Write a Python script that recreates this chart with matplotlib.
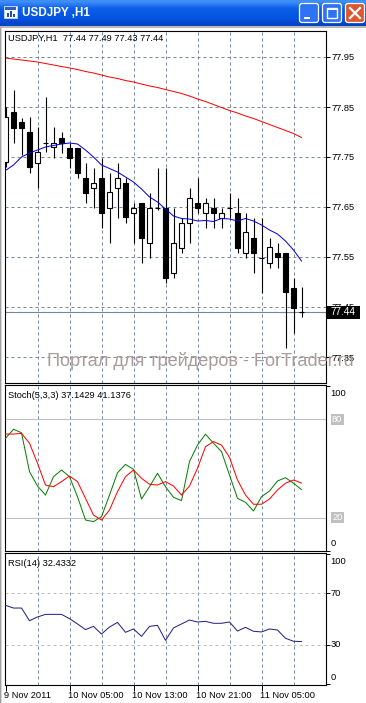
import matplotlib
matplotlib.use("Agg")
import matplotlib.pyplot as plt
import matplotlib.transforms as mtransforms
from matplotlib.patches import Rectangle, FancyBboxPatch
import numpy as np

# ---- data ----
symbol = "USDJPY ,H1"
header_main = "USDJPY,H1  77.44 77.49 77.43 77.44"
header_stoch = "Stoch(5,3,3) 37.1429 41.1376"
header_rsi = "RSI(14) 32.4332"
watermark = "Портал для трейдеров - ForTrader.ru"

opens = [77.740, 77.840, 77.820, 77.800, 77.739, 77.779, 77.771, 77.789, 77.769, 77.769,
         77.709, 77.689, 77.709, 77.649, 77.689, 77.699, 77.639, 77.659, 77.579, 77.649,
         77.649, 77.519, 77.569, 77.619, 77.659, 77.639, 77.649, 77.629, 77.649, 77.639,
         77.559, 77.589, 77.549, 77.539, 77.559, 77.559, 77.489, 77.440]
highs = [77.850, 77.885, 77.829, 77.830, 77.811, 77.871, 77.811, 77.800, 77.779, 77.769,
         77.739, 77.729, 77.749, 77.719, 77.739, 77.709, 77.659, 77.659, 77.679, 77.729,
         77.729, 77.649, 77.629, 77.689, 77.709, 77.669, 77.669, 77.649, 77.679, 77.669,
         77.639, 77.629, 77.629, 77.589, 77.579, 77.559, 77.509, 77.490]
lows = [77.730, 77.778, 77.755, 77.719, 77.689, 77.761, 77.749, 77.759, 77.729, 77.709,
        77.659, 77.649, 77.609, 77.579, 77.629, 77.619, 77.579, 77.539, 77.549, 77.645,
        77.499, 77.509, 77.559, 77.579, 77.639, 77.609, 77.609, 77.609, 77.629, 77.559,
        77.549, 77.519, 77.479, 77.529, 77.529, 77.369, 77.399, 77.430]
closes = [77.830, 77.809, 77.809, 77.729, 77.761, 77.779, 77.779, 77.779, 77.749, 77.719,
          77.679, 77.699, 77.639, 77.679, 77.709, 77.629, 77.649, 77.589, 77.649, 77.649,
          77.509, 77.579, 77.619, 77.669, 77.649, 77.659, 77.639, 77.639, 77.649, 77.569,
          77.599, 77.559, 77.549, 77.569, 77.549, 77.479, 77.449, 77.440]

ma_fast = [77.723, 77.734, 77.750, 77.758, 77.764, 77.770, 77.773, 77.776, 77.778, 77.776,
           77.764, 77.750, 77.734, 77.727, 77.720, 77.710, 77.700, 77.686, 77.670, 77.660,
           77.646, 77.632, 77.627, 77.626, 77.622, 77.623, 77.621, 77.627, 77.626, 77.622,
           77.627, 77.622, 77.614, 77.604, 77.596, 77.582, 77.564, 77.542]
ma_slow = [77.948, 77.946, 77.944, 77.942, 77.940, 77.937, 77.934, 77.931, 77.928, 77.925,
           77.921, 77.918, 77.914, 77.910, 77.907, 77.903, 77.900, 77.896, 77.892, 77.889,
           77.885, 77.881, 77.877, 77.872, 77.866, 77.861, 77.855, 77.849, 77.843, 77.838,
           77.832, 77.827, 77.821, 77.815, 77.809, 77.803, 77.797, 77.789]

stoch_main = [68.4, 73.9, 71.8, 48.1, 39.3, 33.8, 45.0, 49.1, 45.0, 32.8,
              18.6, 17.6, 20.6, 33.8, 47.4, 52.5, 49.5, 31.4, 38.9, 47.1,
              38.9, 32.4, 30.4, 54.2, 64.3, 70.9, 65.4, 60.3, 46.0, 31.8,
              29.4, 24.1, 32.8, 36.3, 42.4, 44.4, 41.0, 37.1429]
stoch_signal = [71.0, 71.0, 71.4, 65.4, 53.2, 39.9, 38.9, 42.0, 45.4, 42.0,
                31.8, 21.6, 18.6, 24.7, 35.9, 45.0, 49.1, 44.0, 40.4, 39.9,
                42.0, 39.3, 33.8, 39.3, 50.1, 63.3, 66.4, 64.3, 56.8, 43.0,
                33.8, 28.2, 28.2, 31.4, 36.9, 41.0, 43.0, 41.1376]
rsi = [60.5, 58.4, 58.4, 48.6, 51.5, 53.5, 53.5, 53.5, 50.2, 46.1,
       41.7, 44.2, 38.3, 43.7, 47.3, 39.6, 42.2, 36.5, 44.2, 45.0,
       33.4, 43.0, 46.1, 49.1, 47.6, 48.1, 46.6, 46.6, 47.6, 40.6,
       43.5, 40.4, 39.9, 42.2, 41.4, 35.0, 32.7, 32.4332]

price_ticks = [77.35, 77.45, 77.55, 77.65, 77.75, 77.85, 77.95]
last_price = 77.44
time_tick_bars = [0, 8, 16, 24, 32]
time_tick_labels = ["9 Nov 2011", "10 Nov 05:00", "10 Nov 13:00", "10 Nov 21:00", "11 Nov 05:00"]
grid_bars = [4, 8, 12, 16, 20, 24, 28, 32, 36]

# ---- figure ----
W, H = 366, 703
fig = plt.figure(figsize=(W / 100, H / 100), dpi=100)
fig.patch.set_facecolor("white")
FONT = "Liberation Sans"
FS = 6.7
GRID = "#778899"
LW = 0.72


def rect(x0, y0, x1, y1):
    return [x0 / W, 1 - y1 / H, (x1 - x0) / W, (y1 - y0) / H]


# title bar (XP style)
tb = fig.add_axes(rect(0, 0, W, 26))
grad = np.array([[0.24, 0.56, 0.97], [0.16, 0.47, 0.95], [0.05, 0.38, 0.91], [0.03, 0.36, 0.90],
                 [0.02, 0.34, 0.89], [0.02, 0.33, 0.88], [0.02, 0.30, 0.84], [0.01, 0.26, 0.78]])
tb.imshow(grad[:, None, :], extent=[0, W, 26, 0], aspect="auto", interpolation="bilinear")
tb.set_xlim(0, W)
tb.set_ylim(26, 0)
tb.axis("off")
tb.add_patch(Rectangle((4, 6), 13, 12, fc="white", ec="#c8d8f0", lw=0.6))
tb.add_patch(Rectangle((5, 7), 11, 3, fc="#3060c0", ec="none"))
for bx, bh in zip([7, 10, 13], [4, 6, 3]):
    tb.add_patch(Rectangle((bx, 17 - bh), 1.5, bh, fc="#2050b0", ec="none"))
tb.text(22, 13.5, symbol, color="white", fontsize=8.4, fontweight="bold", family=FONT,
        va="center", ha="left")
for x0, fc in [(299, "#2f72f2"), (322, "#2f72f2"), (345, "#dd5630")]:
    tb.add_patch(FancyBboxPatch((x0 + 0.5, 3.5), 19, 19, boxstyle="round,pad=0,rounding_size=2.5",
                                fc=fc, ec="white", lw=0.9))
tb.add_patch(Rectangle((304, 16.5), 6, 2.5, fc="white", ec="none"))
tb.add_patch(Rectangle((326.5, 7.5), 10, 10, fc="none", ec="white", lw=1.0))
tb.add_patch(Rectangle((326.5, 7.5), 10, 2, fc="white", ec="none"))
tb.plot([350, 360], [8, 18], color="white", lw=1.6)
tb.plot([350, 360], [18, 8], color="white", lw=1.6)

# window frame bits
frame = fig.add_axes(rect(0, 26, W, H))
frame.set_xlim(0, W)
frame.set_ylim(H, 26)
frame.axis("off")
frame.add_patch(Rectangle((0, 26), 1.2, H, fc="#a0a0a0", ec="none"))
frame.add_patch(Rectangle((1.2, 26), 1.2, H, fc="#d8d8d8", ec="none"))
frame.add_patch(Rectangle((0, 26), W, 1.5, fc="#b8b8b8", ec="none"))

X0, X1 = 4.7, 325.7
ax_main = fig.add_axes(rect(X0, 30.5, X1, 383))
ax_st = fig.add_axes(rect(X0, 385, X1, 551))
ax_rsi = fig.add_axes(rect(X0, 553, X1, 685))

xmin = -0.1
xmax = xmin + (X1 - X0) / 8.0
bars = np.arange(len(closes))

for ax in (ax_main, ax_st, ax_rsi):
    ax.set_xlim(xmin, xmax)
    ax.set_facecolor("white")
    for s in ax.spines.values():
        s.set_color("black")
        s.set_linewidth(0.8)
    for gx in grid_bars:
        ax.axvline(gx, color=GRID, lw=LW, ls=(0, (3, 3)), zorder=0.5)
    ax.yaxis.tick_right()
    ax.tick_params(axis="y", direction="out", length=3, width=0.7, pad=1, labelsize=FS,
                   labelfontfamily=FONT)
    ax.tick_params(axis="x", direction="out", length=3, width=0.7, labelbottom=False, bottom=False)

# ---- main price panel ----
ax_main.set_ylim(77.95 - 326 / 500, 77.95 + 26.5 / 500)
for p in price_ticks:
    ax_main.axhline(p, color=GRID, lw=LW, ls=(0, (3, 3)), zorder=0.5)
ax_main.set_yticks(price_ticks)
ax_main.set_yticklabels([f"{p:.2f}" for p in price_ticks])
ax_main.axhline(last_price, color="#778899", lw=0.8, zorder=1)

ax_main.plot(bars, ma_slow, color="red", lw=LW, zorder=2)
ax_main.vlines(bars, lows, highs, color="black", lw=0.8, zorder=3)
for i, (o, c) in enumerate(zip(opens, closes)):
    if abs(c - o) < 0.001:
        ax_main.hlines(o, i - 0.3, i + 0.3, color="black", lw=0.8, zorder=4)
    else:
        fc = "white" if c > o else "black"
        ax_main.bar(i, c - o, bottom=o, width=0.55, facecolor=fc, edgecolor="black",
                    linewidth=0.8, zorder=4)
ax_main.plot(bars, ma_fast, color="#0000e0", lw=LW, zorder=5)

ax_main.text(0.0103, 0.977, header_main, transform=ax_main.transAxes, fontsize=FS,
             family=FONT, va="center", ha="left")
# current price tag on the price scale
tr = mtransforms.blended_transform_factory(ax_main.transAxes, ax_main.transData)
ax_main.add_patch(Rectangle((1.004, last_price - 0.0135), 0.103, 0.026, transform=tr,
                            fc="black", ec="none", clip_on=False, zorder=9))
ax_main.text(1.014, last_price, f"{last_price:.2f}", transform=tr, fontsize=7.2, family=FONT,
             color="white", va="center", ha="left", zorder=10)

# ---- stochastic panel ----
ax_st.set_ylim(-0.3, 100.9)
ax_st.axhline(80, color="#c0c0c0", lw=0.8, zorder=0.6)
ax_st.axhline(20, color="#c0c0c0", lw=0.8, zorder=0.6)
ax_st.plot(bars, stoch_main, color="green", lw=LW, zorder=3)
ax_st.plot(bars, stoch_signal, color="red", lw=LW, zorder=3)
ax_st.set_yticks([0, 100])
ax_st.set_yticklabels([])
trs = mtransforms.blended_transform_factory(ax_st.transAxes, ax_st.transData)
ax_st.text(1.015, 96, "100", transform=trs, fontsize=FS, family=FONT, va="center", ha="left")
ax_st.text(1.015, 4, "0", transform=trs, fontsize=FS, family=FONT, va="center", ha="left")
for lv in (80, 20):
    ax_st.text(1.02, lv, str(lv), transform=trs, fontsize=FS, family=FONT, color="white",
               va="center", ha="left", bbox=dict(facecolor="#c0c0c0", edgecolor="none", pad=0.8))
ax_st.text(0.0103, 0.937, header_stoch, transform=ax_st.transAxes, fontsize=FS,
           family=FONT, va="center", ha="left")

# ---- RSI panel ----
ax_rsi.set_ylim(-1.16, 101.0)
ax_rsi.axhline(70, color="#c0c0c0", lw=LW, ls=(0, (3, 3)), zorder=0.6)
ax_rsi.axhline(30, color="#c0c0c0", lw=LW, ls=(0, (3, 3)), zorder=0.6)
ax_rsi.plot(bars, rsi, color="#202080", lw=LW, zorder=3)
ax_rsi.set_yticks([0, 30, 70, 100])
ax_rsi.set_yticklabels([])
trr = mtransforms.blended_transform_factory(ax_rsi.transAxes, ax_rsi.transData)
for lbl, yv in [("100", 94.6), ("70", 70), ("30", 30), ("0", 4.3)]:
    ax_rsi.text(1.015, yv, lbl, transform=trr, fontsize=FS, family=FONT, va="center", ha="left")
ax_rsi.text(0.0103, 0.920, header_rsi, transform=ax_rsi.transAxes, fontsize=FS,
            family=FONT, va="center", ha="left")
ax_rsi.set_xticks(time_tick_bars)
ax_rsi.set_xticklabels(time_tick_labels, ha="left")
ax_rsi.tick_params(axis="x", labelbottom=True, bottom=True, length=4, pad=0.3,
                   labelsize=FS, labelfontfamily=FONT)
for lab in ax_rsi.get_xticklabels():
    lab.set_transform(lab.get_transform() + mtransforms.ScaledTranslation(-2 / 100, 0, fig.dpi_scale_trans))

# watermark
fig.text(47 / W, 1 - 361.5 / H, watermark, fontsize=13.1, family=FONT, color="#aa9c9c",
         va="center", ha="left", zorder=20)

fig.savefig("out.png", dpi=100)
